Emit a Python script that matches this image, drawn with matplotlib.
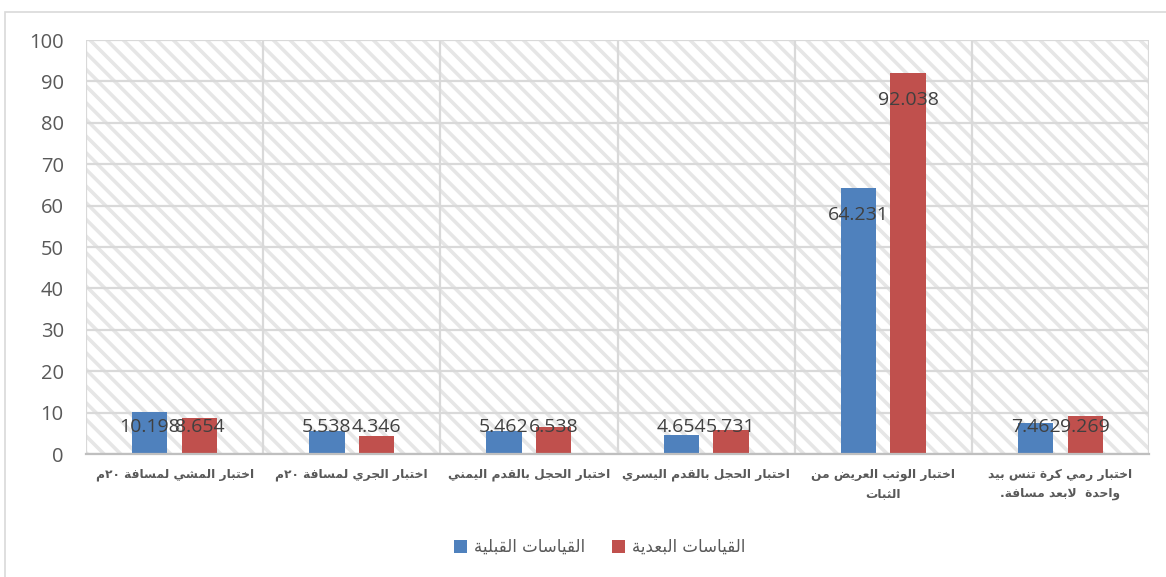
import matplotlib
matplotlib.use("Agg")
import matplotlib.pyplot as plt
from matplotlib.patches import Patch, Rectangle

# categories, left to right as drawn
categories = [
    ["اختبار المشي لمسافة ٢٠م"],
    ["اختبار الجري لمسافة ٢٠م"],
    ["اختبار الحجل بالقدم اليمني"],
    ["اختبار الحجل بالقدم اليسري"],
    ["اختبار الوثب العريض من", "الثبات"],
    ["اختبار رمي كرة تنس بيد", "واحدة  لابعد مسافة."],
]
pre_values = [10.198, 5.538, 5.462, 4.654, 64.231, 7.462]
post_values = [8.654, 4.346, 6.538, 5.731, 92.038, 9.269]
series_names = ["القياسات القبلية", "القياسات البعدية"]
y_ticks = [0, 10, 20, 30, 40, 50, 60, 70, 80, 90, 100]

BLUE = "#4F81BD"
RED = "#C0504D"
GRID = "#D9D9D9"

# --- minimal Arabic shaping (matplotlib does no text shaping) ---
# letter: (isolated, final, initial, medial); None for right-joining only
FORMS = {
    "ء": (0xFE80, None, None, None),
    "آ": (0xFE81, 0xFE82, None, None),
    "أ": (0xFE83, 0xFE84, None, None),
    "ؤ": (0xFE85, 0xFE86, None, None),
    "إ": (0xFE87, 0xFE88, None, None),
    "ئ": (0xFE89, 0xFE8A, 0xFE8B, 0xFE8C),
    "ا": (0xFE8D, 0xFE8E, None, None),
    "ب": (0xFE8F, 0xFE90, 0xFE91, 0xFE92),
    "ة": (0xFE93, 0xFE94, None, None),
    "ت": (0xFE95, 0xFE96, 0xFE97, 0xFE98),
    "ث": (0xFE99, 0xFE9A, 0xFE9B, 0xFE9C),
    "ج": (0xFE9D, 0xFE9E, 0xFE9F, 0xFEA0),
    "ح": (0xFEA1, 0xFEA2, 0xFEA3, 0xFEA4),
    "خ": (0xFEA5, 0xFEA6, 0xFEA7, 0xFEA8),
    "د": (0xFEA9, 0xFEAA, None, None),
    "ذ": (0xFEAB, 0xFEAC, None, None),
    "ر": (0xFEAD, 0xFEAE, None, None),
    "ز": (0xFEAF, 0xFEB0, None, None),
    "س": (0xFEB1, 0xFEB2, 0xFEB3, 0xFEB4),
    "ش": (0xFEB5, 0xFEB6, 0xFEB7, 0xFEB8),
    "ص": (0xFEB9, 0xFEBA, 0xFEBB, 0xFEBC),
    "ض": (0xFEBD, 0xFEBE, 0xFEBF, 0xFEC0),
    "ط": (0xFEC1, 0xFEC2, 0xFEC3, 0xFEC4),
    "ظ": (0xFEC5, 0xFEC6, 0xFEC7, 0xFEC8),
    "ع": (0xFEC9, 0xFECA, 0xFECB, 0xFECC),
    "غ": (0xFECD, 0xFECE, 0xFECF, 0xFED0),
    "ف": (0xFED1, 0xFED2, 0xFED3, 0xFED4),
    "ق": (0xFED5, 0xFED6, 0xFED7, 0xFED8),
    "ك": (0xFED9, 0xFEDA, 0xFEDB, 0xFEDC),
    "ل": (0xFEDD, 0xFEDE, 0xFEDF, 0xFEE0),
    "م": (0xFEE1, 0xFEE2, 0xFEE3, 0xFEE4),
    "ن": (0xFEE5, 0xFEE6, 0xFEE7, 0xFEE8),
    "ه": (0xFEE9, 0xFEEA, 0xFEEB, 0xFEEC),
    "و": (0xFEED, 0xFEEE, None, None),
    "ى": (0xFEEF, 0xFEF0, None, None),
    "ي": (0xFEF1, 0xFEF2, 0xFEF3, 0xFEF4),
}
ALEFS = {"ا": (0xFEFB, 0xFEFC), "أ": (0xFEF7, 0xFEF8),
         "إ": (0xFEF9, 0xFEFA), "آ": (0xFEF5, 0xFEF6)}
DIGITS = set("0123456789٠١٢٣٤٥٦٧٨٩")


def joins_forward(ch):
    return ch in FORMS and FORMS[ch][2] is not None


def shape(text):
    out = []
    i = 0
    n = len(text)
    while i < n:
        ch = text[i]
        if ch not in FORMS:
            out.append(ch)
            i += 1
            continue
        prev = text[i - 1] if i > 0 else ""
        link_prev = joins_forward(prev) and not (out and out[-1] in ("\ufefb", "\ufefc"))
        if ch == "ل" and i + 1 < n and text[i + 1] in ALEFS:
            out.append(chr(ALEFS[text[i + 1]][1 if link_prev else 0]))
            i += 2
            continue
        nxt = text[i + 1] if i + 1 < n else ""
        link_next = joins_forward(ch) and nxt in FORMS
        iso, fin, ini, med = FORMS[ch]
        if link_prev and link_next:
            code = med
        elif link_prev:
            code = fin
        elif link_next:
            code = ini
        else:
            code = iso
        out.append(chr(code))
        i += 1
    return "".join(out)


def visual(text):
    s = shape(text)
    runs, cur, cur_digit = [], "", None
    for ch in s:
        d = ch in DIGITS
        if cur and d != cur_digit:
            runs.append((cur, cur_digit))
            cur = ""
        cur += ch
        cur_digit = d
    if cur:
        runs.append((cur, cur_digit))
    return "".join(r if d else r[::-1] for r, d in reversed(runs))


plt.rcParams["hatch.linewidth"] = 2.6

fig = plt.figure(figsize=(11.66, 5.77), dpi=100)
ax = fig.add_axes([86 / 1166, 1 - 454 / 577, (1149 - 86) / 1166, (454 - 40) / 577])

# hatched plot area background
ax.add_patch(Rectangle((0, 0), 1, 1, transform=ax.transAxes, facecolor="white",
                       edgecolor="#E6E6E6", hatch="\\\\", linewidth=0, zorder=0))

x = list(range(len(categories)))
width = 0.2
offset = 0.14
ax.bar([i - offset for i in x], pre_values, width, color=BLUE, zorder=3)
ax.bar([i + offset for i in x], post_values, width, color=RED, zorder=3)

num_font = ["Open Sans", "DejaVu Sans"]
for xs, vals in [([i - offset for i in x], pre_values), ([i + offset for i in x], post_values)]:
    for xi, v in zip(xs, vals):
        ax.text(xi, max(v - 6.5, 6.5), f"{v:.3f}", ha="center", va="center",
                fontsize=14, color="#404040", family=num_font, zorder=4)

ax.set_xlim(-0.5, len(categories) - 0.5)
ax.set_ylim(0, 100)
ax.set_yticks(y_ticks)
ax.set_yticklabels([str(t) for t in y_ticks], family=num_font, fontsize=14.5, color="#595959")
ax.tick_params(axis="y", length=0, pad=16)

ax.set_xticks(x)
ax.set_xticklabels(["\n".join(visual(line) for line in c) for c in categories],
                   family="DejaVu Sans", fontweight="bold", fontsize=8.8,
                   color="#595959", linespacing=1.6)
ax.tick_params(axis="x", length=0, pad=10)
ax.set_xticks([i + 0.5 for i in range(-1, len(categories))], minor=True)
ax.tick_params(axis="x", which="minor", length=0)

ax.grid(axis="y", color=GRID, linewidth=1.6, zorder=1)
ax.grid(axis="x", which="minor", color=GRID, linewidth=1.6, zorder=1)
ax.set_axisbelow(True)
for side in ["top", "left", "right"]:
    ax.spines[side].set_visible(False)
ax.spines["bottom"].set_color("#BFBFBF")
ax.spines["bottom"].set_linewidth(1.6)
ax.spines["bottom"].set_zorder(3.5)

handles = [Patch(facecolor=BLUE), Patch(facecolor=RED)]
fig.legend(handles, [visual(s) for s in series_names], loc="center",
           bbox_to_anchor=(0.514, 0.052), ncol=2, frameon=False,
           prop={"family": "DejaVu Sans", "size": 12}, handlelength=0.8,
           handleheight=0.8, handletextpad=0.4, columnspacing=1.6,
           labelcolor="#595959")

# outer chart frame
fig.add_artist(Rectangle((5 / 1166, -0.01), 1.0, 1 - 12 / 577 + 0.01,
                         transform=fig.transFigure, fill=False,
                         edgecolor=GRID, linewidth=1.2))

fig.savefig("out.png", dpi=100)
